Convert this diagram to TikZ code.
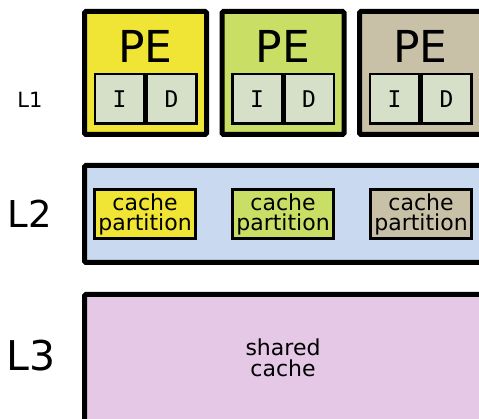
\documentclass[tikz,border=0pt]{standalone}
\usepackage{fontspec}
\setmainfont{DejaVu Sans}
\newfontfamily\idfont{DejaVu Sans Mono}
\usetikzlibrary{positioning}

\definecolor{peyellow}{RGB}{240,228,52}
\definecolor{pegreen}{RGB}{200,222,100}
\definecolor{petan}{RGB}{201,192,168}
\definecolor{idfill}{RGB}{214,224,200}
\definecolor{ltwoblue}{RGB}{201,217,240}
\definecolor{lthreepink}{RGB}{228,200,230}

\tikzset{
  pebox/.style={draw=black, line width=5pt, rounded corners=1.5pt, minimum width=122pt, minimum height=123pt, inner sep=0pt},
  idbox/.style={draw=black, line width=2.5pt, fill=idfill, minimum width=49.5pt, minimum height=49.5pt, inner sep=0pt, font=\idfont\fontsize{23}{23}\selectfont},
  partbox/.style={draw=black, line width=3pt, minimum width=101pt, minimum height=49pt, inner sep=0pt, align=center, font=\fontsize{22}{20}\selectfont},
  levelbox/.style={draw=black, line width=5pt, rounded corners=1.5pt, inner sep=0pt},
  lvl/.style={inner sep=0pt}
}

\begin{document}
\begin{tikzpicture}[x=1pt, y=-1pt]
			%%%%% START %%%%%
			\useasboundingbox (0, 0) rectangle (479, 419);
			\clip (0, 0) rectangle (479, 419);
			
			% level labels
			\node[lvl, font=\fontsize{21}{21}\selectfont] (lone) at (30, 100) {L1};
			\node[lvl, font=\fontsize{37}{37}\selectfont] (ltwo) at (30, 214) {L2};
			\node[lvl, font=\fontsize{41}{41}\selectfont] (lthree) at (31, 356) {L3};
			
			% L1: processing elements
			\node[pebox, fill=peyellow] (peA) at (145.5, 73) {};
			\node[font=\fontsize{44}{44}\selectfont, inner sep=0pt] (peAtxt) at (145.5, 46) {PE};
			\node[idbox] (iA) at (119.5, 99) {I};
			\node[idbox, right=0pt of iA] (dA) {D};
			
			\node[pebox, fill=pegreen] (peB) at (283, 73) {};
			\node[font=\fontsize{44}{44}\selectfont, inner sep=0pt] (peBtxt) at (283, 46) {PE};
			\node[idbox] (iB) at (257, 99) {I};
			\node[idbox, right=0pt of iB] (dB) {D};
			
			\node[pebox, fill=petan] (peC) at (420.5, 73) {};
			\node[font=\fontsize{44}{44}\selectfont, inner sep=0pt] (peCtxt) at (420.5, 46) {PE};
			\node[idbox] (iC) at (394.5, 99) {I};
			\node[idbox, right=0pt of iC] (dC) {D};
			
			% L2: partitioned cache
			\node[levelbox, fill=ltwoblue, minimum width=440pt, minimum height=97pt] (ltwobox) at (304.5, 214) {};
			\node[partbox, fill=peyellow] (partA) at (145, 214) {cache\\partition};
			\node[partbox, fill=pegreen] (partB) at (283, 214) {cache\\partition};
			\node[partbox, fill=petan] (partC) at (421, 214) {cache\\partition};
			
			% L3: shared cache
			\node[levelbox, fill=lthreepink, minimum width=440pt, minimum height=200pt] (lthreebox) at (304.5, 394.5) {};
			\node[inner sep=0pt, align=center, font=\fontsize{22}{20.5}\selectfont] (shared) at (283, 358) {shared\\cache};
			
			%%%%% END %%%%%
		\end{tikzpicture}
\end{document}
